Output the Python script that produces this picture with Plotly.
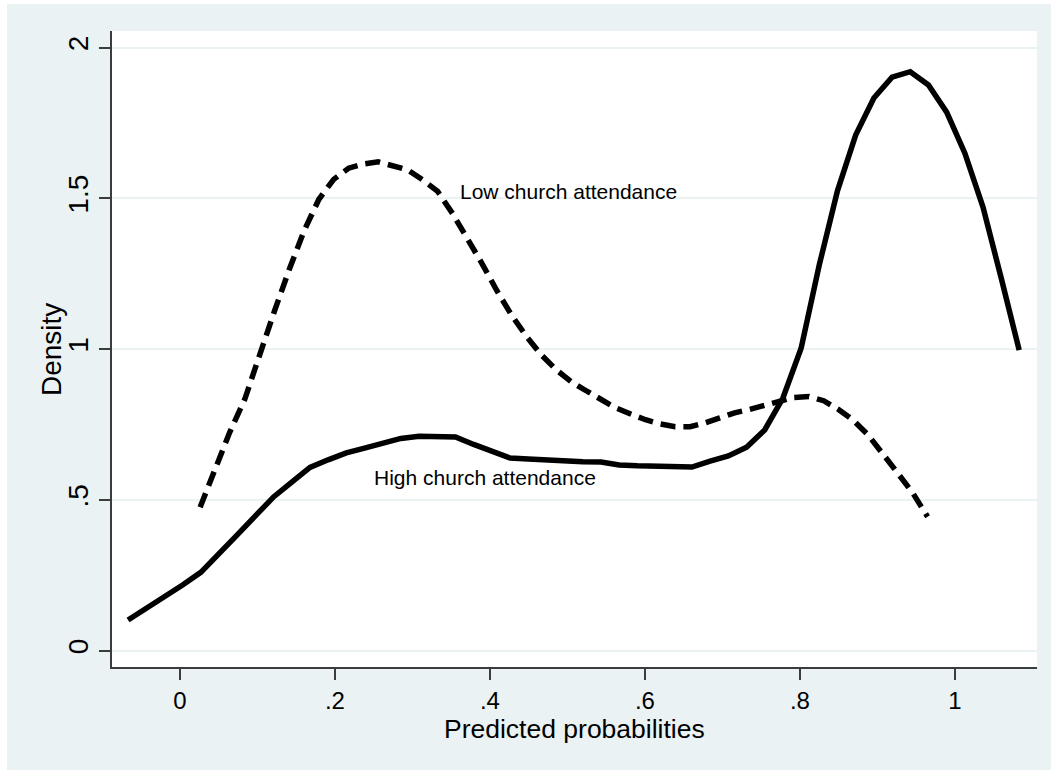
import plotly.graph_objects as go

# High church attendance (solid) - kernel density, 50 grid points
high_x = [-0.0670, -0.0435, -0.0200, 0.0034, 0.0269, 0.0504, 0.0739, 0.0973, 0.1208, 0.1443,
          0.1678, 0.1912, 0.2147, 0.2382, 0.2617, 0.2851, 0.3086, 0.3321, 0.3556, 0.3790,
          0.4025, 0.4260, 0.4495, 0.4729, 0.4964, 0.5199, 0.5434, 0.5668, 0.5903, 0.6138,
          0.6373, 0.6607, 0.6842, 0.7077, 0.7312, 0.7546, 0.7781, 0.8016, 0.8251, 0.8485,
          0.8720, 0.8955, 0.9190, 0.9424, 0.9659, 0.9894, 1.0129, 1.0363, 1.0598, 1.0830]
high_y = [0.102, 0.139, 0.178, 0.218, 0.260, 0.320, 0.384, 0.447, 0.510, 0.559,
          0.608, 0.633, 0.656, 0.672, 0.689, 0.704, 0.711, 0.712, 0.709, 0.684,
          0.662, 0.639, 0.636, 0.632, 0.629, 0.627, 0.626, 0.616, 0.613, 0.611,
          0.609, 0.609, 0.629, 0.646, 0.675, 0.732, 0.838, 1.003, 1.280, 1.525,
          1.710, 1.833, 1.902, 1.920, 1.876, 1.786, 1.650, 1.471, 1.236, 0.997]

# Low church attendance (dashed)
low_x = [0.0260, 0.0452, 0.0643, 0.0835, 0.1026, 0.1218, 0.1410, 0.1601, 0.1793, 0.1984,
         0.2176, 0.2368, 0.2559, 0.2751, 0.2942, 0.3134, 0.3326, 0.3517, 0.3709, 0.3900,
         0.4092, 0.4284, 0.4475, 0.4667, 0.4858, 0.5050, 0.5242, 0.5433, 0.5625, 0.5816,
         0.6008, 0.6200, 0.6391, 0.6583, 0.6774, 0.6966, 0.7158, 0.7349, 0.7541, 0.7732,
         0.7924, 0.8116, 0.8307, 0.8499, 0.8690, 0.8882, 0.9074, 0.9265, 0.9457, 0.9648]
low_y = [0.476, 0.606, 0.725, 0.833, 0.983, 1.125, 1.264, 1.392, 1.497, 1.563,
         1.600, 1.614, 1.621, 1.609, 1.594, 1.561, 1.523, 1.450, 1.369, 1.283,
         1.193, 1.111, 1.041, 0.980, 0.931, 0.892, 0.862, 0.833, 0.805, 0.785,
         0.766, 0.752, 0.743, 0.743, 0.755, 0.772, 0.789, 0.800, 0.814, 0.829,
         0.840, 0.843, 0.829, 0.800, 0.764, 0.715, 0.654, 0.588, 0.523, 0.444]

x_ticks = [0, 0.2, 0.4, 0.6, 0.8, 1]
x_tick_labels = ["0", ".2", ".4", ".6", ".8", "1"]
y_ticks = [0, 0.5, 1, 1.5, 2]
y_tick_labels = ["0", ".5", "1", "1.5", "2"]
x_title = "Predicted probabilities"
y_title = "Density"

FONT = "Liberation Sans, Arial, Helvetica, sans-serif"
BG = "#EAF2F3"
AXIS = "#3C3C3C"

fig = go.Figure()
fig.add_trace(go.Scatter(x=high_x, y=high_y, mode="lines",
                         line=dict(color="black", width=5.5), showlegend=False,
                         name="High church attendance"))
fig.add_trace(go.Scatter(x=low_x, y=low_y, mode="lines",
                         line=dict(color="black", width=5.5, dash="15px,8px"),
                         showlegend=False, name="Low church attendance"))

fig.add_annotation(x=0.3587, y=1.524, text="Low church attendance", showarrow=False,
                   xanchor="left", yanchor="middle", font=dict(family=FONT, size=21, color="black"))
fig.add_annotation(x=0.2474, y=0.573, text="High church attendance", showarrow=False,
                   xanchor="left", yanchor="middle", font=dict(family=FONT, size=21, color="black"))

# axis titles placed as paper annotations
fig.add_annotation(xref="paper", yref="paper", x=0.5, y=(667 - 729) / 636,
                   text=x_title, showarrow=False, xanchor="center", yanchor="middle",
                   font=dict(family=FONT, size=26.5, color="black"))
fig.add_annotation(xref="paper", yref="paper", x=(51 - 112) / 925, y=0.5,
                   text=y_title, showarrow=False, textangle=-90, xanchor="center", yanchor="middle",
                   font=dict(family=FONT, size=28, color="black"))

# white strips at the image's left/top edges
fig.add_shape(type="rect", xref="paper", yref="paper", x0=-0.125, x1=(7 - 112) / 925,
              y0=-0.2, y1=1.1, fillcolor="white", line=dict(width=0), layer="below")
fig.add_shape(type="rect", xref="paper", yref="paper", x0=-0.125, x1=1.1,
              y0=(667 - 4) / 636, y1=1.1, fillcolor="white", line=dict(width=0), layer="below")

fig.update_layout(
    width=1051, height=770,
    margin=dict(l=112, r=14, t=31, b=103),
    paper_bgcolor=BG, plot_bgcolor="white",
    font=dict(family=FONT, color="black"),
    xaxis=dict(range=[-0.0877, 1.106], tickvals=x_ticks, ticktext=x_tick_labels,
               showgrid=False, zeroline=False, showline=True, linecolor=AXIS, linewidth=2,
               ticks="outside", ticklen=11, tickwidth=2, tickcolor=AXIS,
               tickfont=dict(size=24, family=FONT)),
    yaxis=dict(range=[-0.054, 2.055], tickvals=y_ticks, ticktext=y_tick_labels,
               showgrid=True, gridcolor=BG, gridwidth=2, zeroline=False,
               showline=True, linecolor=AXIS, linewidth=2,
               ticks="outside", ticklen=11, tickwidth=2, tickcolor=AXIS, tickangle=-90,
               tickfont=dict(size=28, family=FONT)),
)

fig.write_html("out.html")
